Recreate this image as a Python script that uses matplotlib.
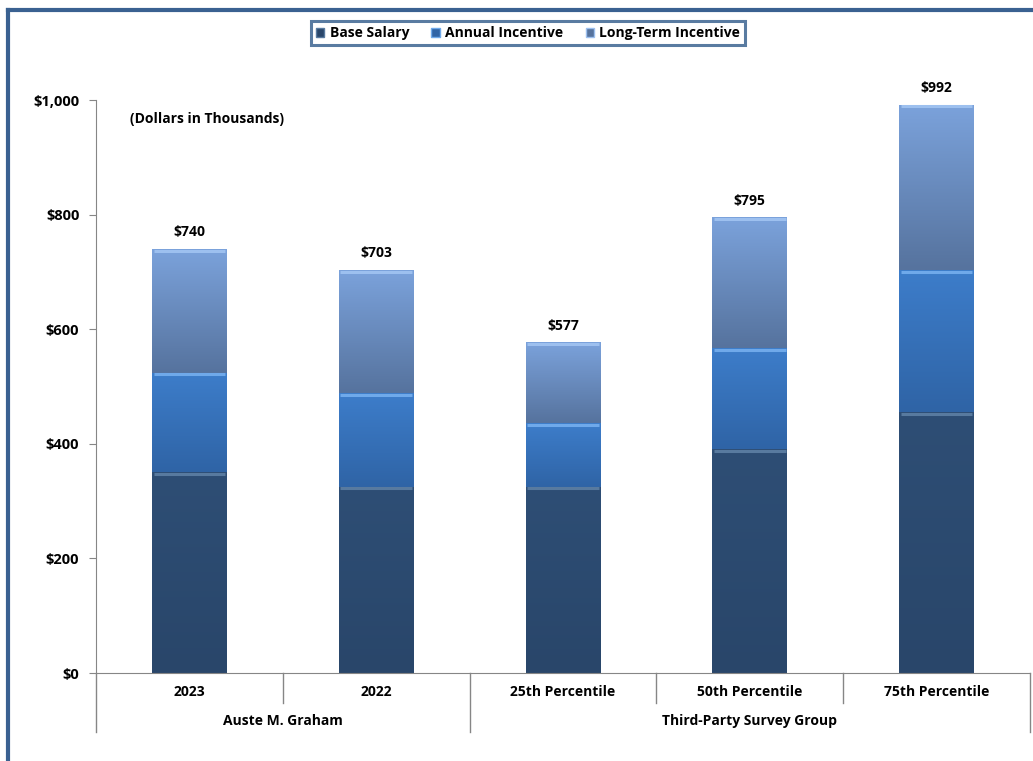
import matplotlib
matplotlib.use("Agg")
import matplotlib.pyplot as plt
import numpy as np
from matplotlib.lines import Line2D
from matplotlib.colors import LinearSegmentedColormap
from matplotlib.patches import Patch
import matplotlib.transforms as mtransforms

plt.rcParams["font.family"] = ["Open Sans", "DejaVu Sans"]
plt.rcParams["font.weight"] = "bold"

categories = ["2023", "2022", "25th Percentile", "50th Percentile", "75th Percentile"]
groups = ["Auste M. Graham", "Third-Party Survey Group"]
group_spans = [(0, 1), (2, 4)]
base_salary = [351, 325, 325, 391, 455]
annual_incentive = [173, 164, 111, 176, 248]
long_term_incentive = [216, 214, 141, 228, 289]
totals = [740, 703, 577, 795, 992]
series_names = ["Base Salary", "Annual Incentive", "Long-Term Incentive"]
y_ticks = [0, 200, 400, 600, 800, 1000]

# top colour, bottom colour, bevel colour
SERIES_STYLE = [
    ("#2e4e75", "#29466a", "#587a9f"),
    ("#3d7dca", "#2f64a6", "#6fa9ea"),
    ("#7ba2db", "#56739e", "#9dc0ef"),
]
FONT_SIZE = 10


def draw_gradient(axis, patch, top_color, bottom_color):
    cmap = LinearSegmentedColormap.from_list("seg", [bottom_color, top_color])
    x0, y0 = patch.get_x(), patch.get_y()
    w, h = patch.get_width(), patch.get_height()
    grad = np.linspace(0, 1, 64).reshape(-1, 1)
    image = axis.imshow(grad, cmap=cmap, aspect="auto", origin="lower",
                        extent=(x0, x0 + w, y0, y0 + h), zorder=2)
    image.set_clip_path(patch)


fig = plt.figure(figsize=(10.33, 7.61), dpi=100)
axis = fig.add_axes([96 / 1033, 1 - 673 / 761, 934 / 1033, 573 / 761])

x = np.arange(len(categories))
width = 0.4
bottom = np.zeros(len(categories))
for values, (top_c, bot_c, bevel_c) in zip([base_salary, annual_incentive, long_term_incentive], SERIES_STYLE):
    bars = axis.bar(x, values, width, bottom=bottom, color=bot_c, edgecolor="none", zorder=2)
    for bar in bars:
        draw_gradient(axis, bar, top_c, bot_c)
        top = bar.get_y() + bar.get_height()
        axis.plot([bar.get_x() + 0.008, bar.get_x() + bar.get_width() - 0.008], [top - 3, top - 3],
                  color=bevel_c, linewidth=2.2, solid_capstyle="butt", zorder=3)
    bottom += np.array(values)

for xi, total in zip(x, totals):
    axis.annotate(f"${total:,}", xy=(xi, total), xytext=(0, 7), textcoords="offset points",
                  ha="center", va="bottom", fontsize=FONT_SIZE, fontweight="bold", color="black")

axis.set_xlim(-0.5, len(categories) - 0.5)
axis.set_ylim(0, 1000)
axis.set_yticks(y_ticks)
axis.set_yticklabels([f"${v:,}" for v in y_ticks], fontsize=FONT_SIZE + 0.5, fontweight="bold")
axis.tick_params(axis="y", direction="out", length=5, color="#868686", pad=7)
axis.set_xticks([])
for side in ["top", "right"]:
    axis.spines[side].set_visible(False)
axis.spines["left"].set_color("#868686")
axis.spines["bottom"].set_color("#868686")

trans = mtransforms.blended_transform_factory(axis.transData, axis.transAxes)
for xi, label in zip(x, categories):
    axis.text(xi, -0.034, label, transform=trans, ha="center", va="center",
              fontsize=FONT_SIZE, fontweight="bold")

for boundary in np.arange(len(categories) + 1) - 0.5:
    long_line = boundary in (-0.5, 1.5, len(categories) - 0.5)
    y_end = -0.103 if long_line else -0.052
    axis.add_line(Line2D([boundary, boundary], [0, y_end], transform=trans, color="#868686",
                         linewidth=1, clip_on=False))

for name, (start, end) in zip(groups, group_spans):
    axis.text((start + end) / 2, -0.084, name, transform=trans, ha="center", va="center",
              fontsize=FONT_SIZE, fontweight="bold")

axis.text(0.036, 0.967, "(Dollars in Thousands)", transform=axis.transAxes, ha="left", va="center",
          fontsize=FONT_SIZE, fontweight="bold")

handles = [Patch(facecolor=style[1], edgecolor=style[2], linewidth=1) for style in SERIES_STYLE]
legend = fig.legend(handles, series_names, loc="center", bbox_to_anchor=(528 / 1033, 1 - 33 / 761),
                    ncol=3, frameon=True, fancybox=False, fontsize=FONT_SIZE, handlelength=0.6,
                    handleheight=0.6, handletextpad=0.4, columnspacing=1.6, borderpad=0.35)
legend.get_frame().set_edgecolor("#2f5a8a")
legend.get_frame().set_linewidth(2.2)
for text in legend.get_texts():
    text.set_fontweight("bold")

frame_color = "#3a6191"
fig.add_artist(Line2D([8 / 1033, 1.0], [1 - 10 / 761, 1 - 10 / 761], transform=fig.transFigure,
                      color=frame_color, linewidth=3))
fig.add_artist(Line2D([8 / 1033, 8 / 1033], [0, 1 - 10 / 761], transform=fig.transFigure,
                      color=frame_color, linewidth=3))

fig.savefig("out.png", dpi=100)
